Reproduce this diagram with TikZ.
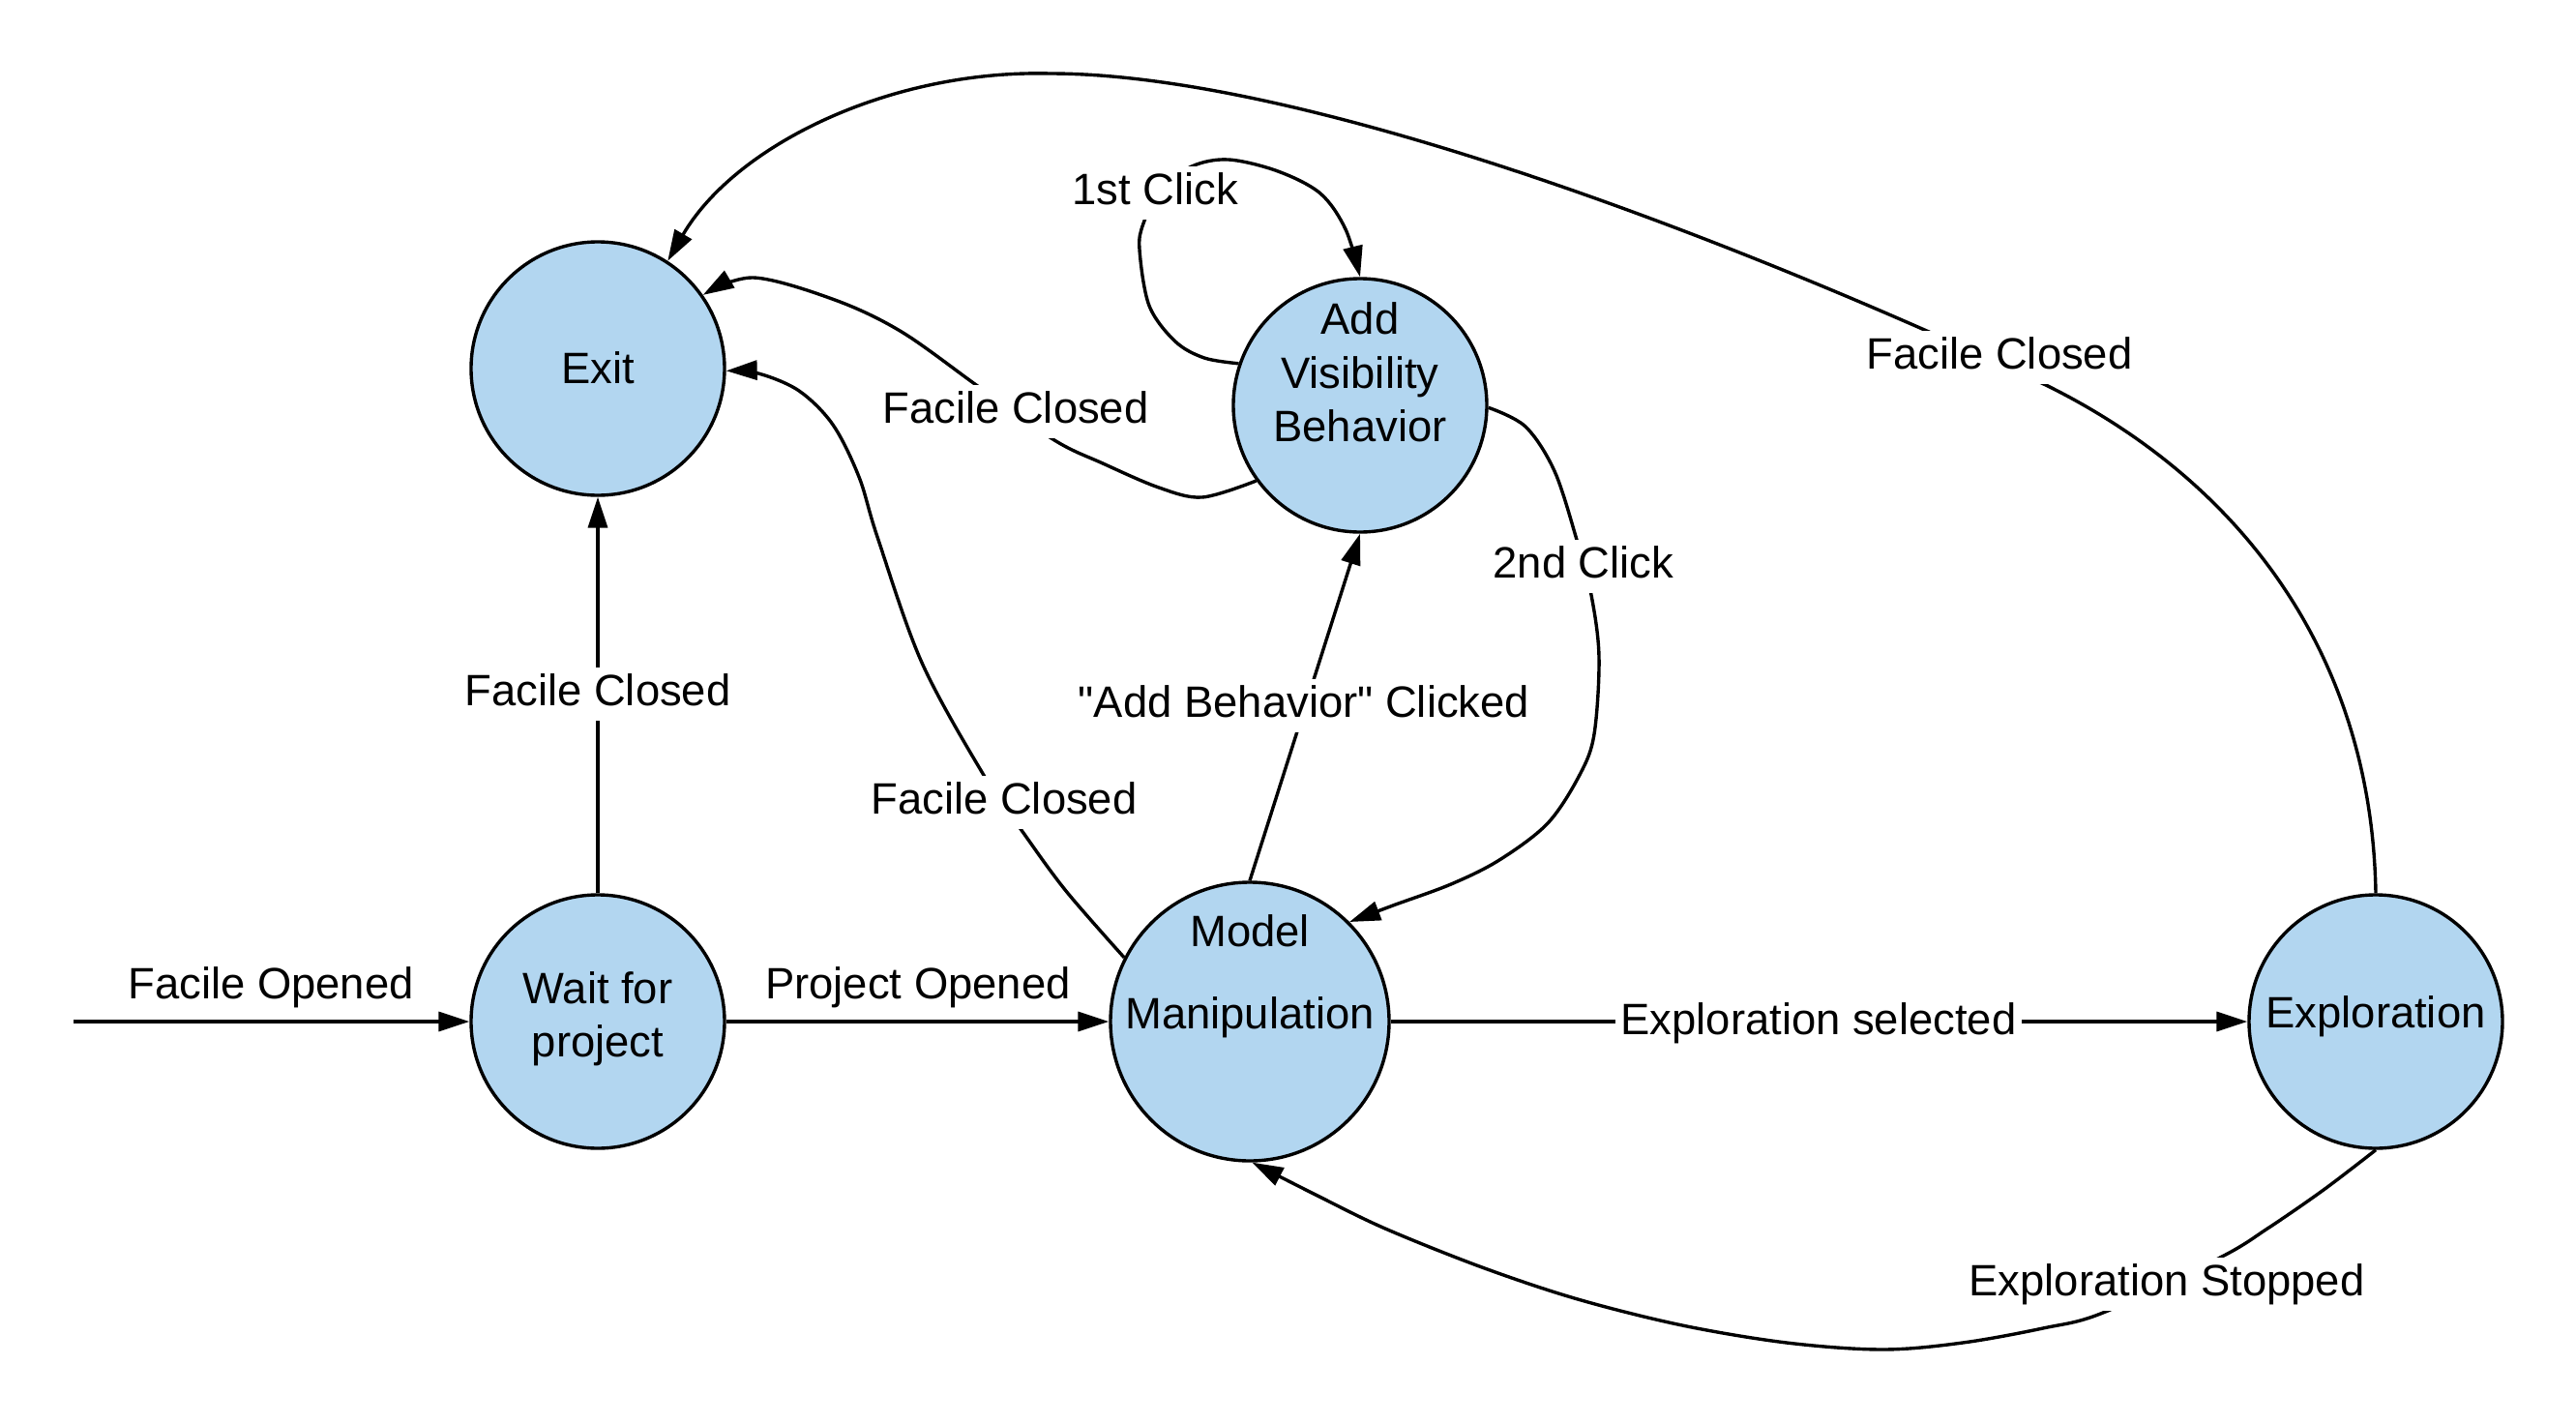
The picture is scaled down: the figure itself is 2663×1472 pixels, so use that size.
\documentclass[tikz,border=0pt]{standalone}
\usepackage{fontspec}
\setmainfont{Liberation Sans}[Ligatures=TeXOff]
\usetikzlibrary{arrows.meta}
\definecolor{statefill}{RGB}{178,214,240}
\newcommand{\lblfont}{\fontsize{22.7}{27.2}\selectfont}
\begin{document}
\begin{tikzpicture}[x=0.5pt,y=-0.5pt,
  state/.style={circle, draw=black, line width=1.7pt, fill=statefill, inner sep=0pt, minimum size=#1},
  intext/.style={font=\lblfont, inner sep=0pt, anchor=base},
  elabel/.style={font=\lblfont, fill=white, inner sep=3pt, text depth=5pt, anchor=base},
  conn/.style={line width=1.7pt, -{Triangle[length=16pt,width=10pt]}},
  crv/.style={smooth, tension=0.55}
]
\useasboundingbox (0,0) rectangle (2663,1472);

% states
\node[state=131pt] (exit) at (618,381) {};
\node[state=131pt] (avb)  at (1406,419) {};
\node[state=131pt] (wait) at (618,1056) {};
\node[state=144pt] (mm)   at (1292,1056) {};
\node[state=131pt] (expl) at (2456,1056) {};

% state texts
\node[intext] (exitT) at (618,396) {Exit};
\node[intext] (avbT1) at (1406,345) {Add};
\node[intext] (avbT2) at (1406,401) {Visibility};
\node[intext] (avbT3) at (1406,456) {Behavior};
\node[intext] (waitT1) at (618,1037) {Wait for};
\node[intext] (waitT2) at (618,1092) {project};
\node[intext] (mmT1) at (1292,978) {Model};
\node[intext] (mmT2) at (1292,1063) {Manipulation};
\node[intext] (explT) at (2456,1062) {Exploration};

% connectors
\coordinate (start) at (76,1056);
\draw[conn] (start) -- (wait.west);
\draw[conn] (wait.north) -- (exit.south);
\draw[conn] (wait.east) -- (mm.west);
\draw[conn] (mm.east) -- (expl.west);
\draw[conn] (mm.north) -- (avb.south);

\coordinate (arcA) at (2117,399);
\coordinate (arcTop) at (1085,76);
\draw[conn] (expl.north) .. controls (2452,680) and (2320,500) .. (arcA)
  .. controls (1800,250) and (1350,76) .. (arcTop)
  .. controls (920,72) and (760,150) .. (exit.57);

\draw[conn] plot[crv] coordinates {(avb.216) (1243,514) (1198,504) (1140,479) (1090,455) (1012,400) (932,343) (863,310) (779,287) (exit.35)};

\draw[conn] plot[crv] coordinates {(mm.153) (1102,921) (1058,861) (1018,803) (953,685) (907,555) (888,493) (861,439) (826,404) (784,386) (exit.-1)};

\draw[conn] plot[crv] coordinates {(avb.161) (1245,370) (1215,353) (1188,316) (1178,258) (1182,231) (1200,196) (1232,172) (1270,165) (1321,177) (1365,200) (1391,237) (avb.90)};

\draw[conn] plot[crv] coordinates {(avb.-1) (1577,441) (1607,487) (1630,558) (1645,615) (1653,679) (1648,759) (1633,801) (1600,851) (1550,889) (1500,914) (1440,936) (mm.45)};

\draw[conn] plot[crv] coordinates {(expl.south) (2402,1230) (2344,1270) (2295,1300) (2174,1357) (2112,1373) (2029,1388) (1946,1395) (1847,1388) (1739,1370) (1631,1343) (1532,1310) (1432,1270) (1362,1236) (mm.-89)};

% connector labels
\node[elabel] (lOpen) at (280,1032) {Facile Opened};
\node[elabel] (lProj) at (949,1032) {Project Opened};
\node[elabel] (lFC1) at (618,729) {Facile Closed};
\node[elabel] (lFC2) at (1050,437) {Facile Closed};
\node[elabel] (lFC3) at (1038,841) {Facile Closed};
\node[elabel] (lFC4) at (2067,381) {Facile Closed};
\node[elabel] (l1st) at (1194,211) {1st Click};
\node[elabel] (l2nd) at (1637,597) {2nd Click};
\node[elabel] (lAdd) at (1348,741) {"Add Behavior" Clicked};
\node[elabel] (lSel) at (1880,1069) {Exploration selected};
\node[elabel] (lStop) at (2240,1339) {Exploration Stopped};
\end{tikzpicture}
\end{document}
